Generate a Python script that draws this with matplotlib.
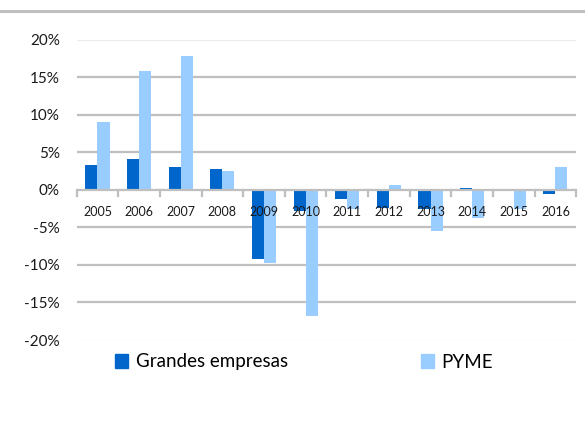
import matplotlib
matplotlib.use("Agg")

import numpy as np
import matplotlib.pyplot as plt
from matplotlib.patches import Patch
from matplotlib.lines import Line2D
from matplotlib.ticker import FuncFormatter

plt.rcParams["font.family"] = ["Lato", "DejaVu Sans"]

years = ["2005", "2006", "2007", "2008", "2009", "2010",
         "2011", "2012", "2013", "2014", "2015", "2016"]
grandes = [3.3, 4.1, 3.1, 2.8, -9.2, -2.8, -1.2, -2.4, -2.6, 0.3, 0.0, -0.6]
pyme = [9.0, 15.9, 17.9, 2.5, -9.8, -16.8, -2.6, 0.6, -5.5, -3.8, -2.6, 3.1]

DARK = "#0066CC"
LIGHT = "#99CCFF"
GRID = "#BFBFBF"

fig = plt.figure(figsize=(5.85, 4.25), dpi=100)
ax = fig.add_axes([0.131, 0.2, 0.854, 0.706])

x = np.arange(len(years))
w = 0.29
ax.bar(x - w / 2, grandes, w, color=DARK, zorder=2)
ax.bar(x + w / 2, pyme, w, color=LIGHT, zorder=2)

ax.set_xlim(-0.5, len(years) - 0.5)
ax.set_ylim(-20, 20)
ax.set_yticks([-20, -15, -10, -5, 0, 5, 10, 15, 20])
ax.yaxis.set_major_formatter(FuncFormatter(lambda v, p: f"{v:.0f}%"))
ax.tick_params(axis="y", length=0, labelsize=11, pad=12, labelcolor="#1a1a1a")

for v in [-15, -10, -5, 5, 10, 15]:
    ax.axhline(v, color=GRID, lw=1.6, zorder=1)
for v in [-20, 20]:
    ax.axhline(v, color="#EBEBEB", lw=0.9, zorder=1)
ax.axhline(0, color=GRID, lw=1.6, zorder=3)

# category ticks between groups, pointing down
ax.set_xticks([])
for b in np.arange(-0.5, len(years), 1.0):
    ax.plot([b, b], [0, -0.75], color=GRID, lw=1.6, zorder=3, clip_on=False)

for xi, yr in zip(x, years):
    ax.text(xi, -3.0, yr, ha="center", va="center", fontsize=9,
            color="#1a1a1a", zorder=4)

for s in ax.spines.values():
    s.set_visible(False)

# top border line
fig.add_artist(Line2D([0, 1], [1 - 11 / 425, 1 - 11 / 425], color=GRID, lw=2.2))

handles = [Patch(color=DARK), Patch(color=LIGHT)]
fig.legend(handles, ["Grandes empresas", "PYME"], ncol=2, frameon=False,
           loc="center left", bbox_to_anchor=(0.168, 1 - 362 / 425),
           fontsize=13.5, handlelength=0.7, handleheight=0.7, handletextpad=0.4,
           columnspacing=7.1)

fig.savefig("out.png", dpi=100)
